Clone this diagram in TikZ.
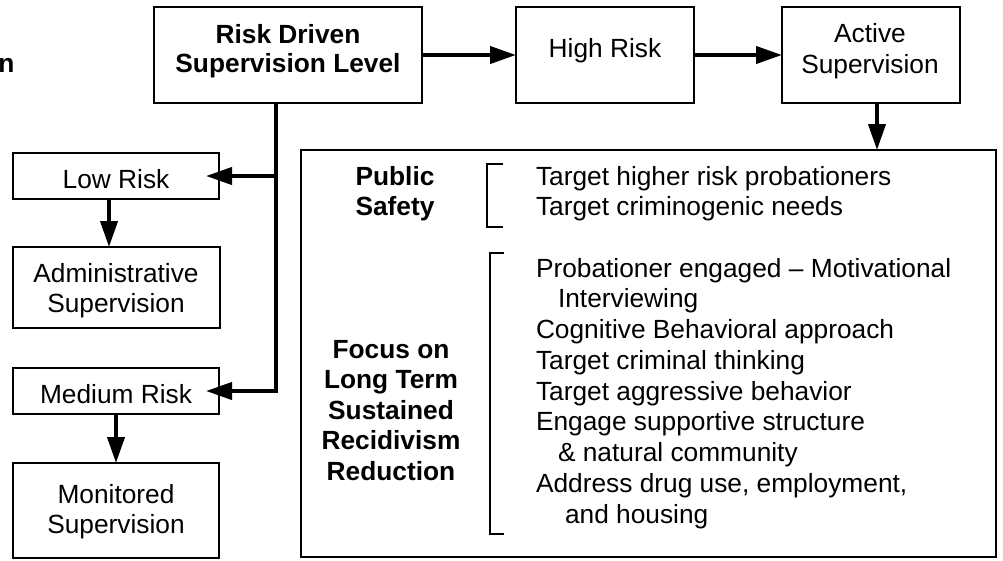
\documentclass[tikz,border=0pt]{standalone}
\usepackage{fontspec}
\setmainfont{Liberation Sans}
\usetikzlibrary{arrows.meta}
\newcommand\ctrlines[2]{\vtop{\baselineskip=#1pt\lineskiplimit=-100pt\halign{\hfil##\hfil\cr#2\crcr}}}
\newcommand\leftlines[2]{\vtop{\baselineskip=#1pt\lineskiplimit=-100pt\halign{##\hfil\cr#2\crcr}}}
\begin{document}
\begin{tikzpicture}[x=1pt,y=-1pt,
  every node/.style={inner sep=0pt,outer sep=0pt,font=\fontsize{26.3}{30}\selectfont},
  boxshape/.style={draw,line width=2pt,rectangle},
  arr/.style={line width=4pt,-{Triangle[length=26pt,width=17pt]}},
  brack/.style={line width=1.2pt},
  lbl/.style={anchor=base},
  bold/.style={font=\fontsize{26.3}{30}\selectfont\bfseries}]
\useasboundingbox (0,0) rectangle (1003,560);

% boxes
\node[boxshape,minimum width=268pt,minimum height=96pt] (rd) at (288,55) {};
\node[boxshape,minimum width=178pt,minimum height=96pt] (hr) at (605,55) {};
\node[boxshape,minimum width=178pt,minimum height=96pt] (act) at (871,55) {};
\node[boxshape,minimum width=695pt,minimum height=407pt] (big) at (648.5,353.5) {};
\node[boxshape,minimum width=206pt,minimum height=46pt] (low) at (116,176) {};
\node[boxshape,minimum width=207pt,minimum height=81pt] (adm) at (116.5,287.5) {};
\node[boxshape,minimum width=206pt,minimum height=46pt] (med) at (116,391) {};
\node[boxshape,minimum width=206pt,minimum height=95pt] (mon) at (116,510.5) {};

% texts
\node[bold,anchor=base east] (cut) at (14.5,72) {n};
\node[bold,lbl] (rdt) at (288,43) {\ctrlines{29}{Risk Driven\cr Supervision Level}};
\node[lbl] (hrt) at (605,57) {High Risk};
\node[lbl] (actt) at (870,42) {\ctrlines{31}{Active\cr Supervision}};
\node[lbl] (lowt) at (116,188) {Low Risk};
\node[lbl] (admt) at (116,282) {\ctrlines{30}{Administrative\cr Supervision}};
\node[lbl] (medt) at (116,403) {Medium Risk};
\node[lbl] (mont) at (116,503) {\ctrlines{30}{Monitored\cr Supervision}};
\node[bold,lbl] (pst) at (395,185) {\ctrlines{30}{Public\cr Safety}};
\node[bold,lbl] (fct) at (391,358) {\ctrlines{30.5}{Focus on\cr Long Term\cr Sustained\cr Recidivism\cr Reduction}};
\node[anchor=base west] (psl) at (536,185) {\leftlines{30}{Target higher risk probationers\cr Target criminogenic needs}};
\node[anchor=base west] (fcl) at (536,277) {\leftlines{30.75}{Probationer engaged – Motivational\cr
\kern22pt Interviewing\cr
Cognitive Behavioral approach\cr
Target criminal thinking\cr
Target aggressive behavior\cr
Engage supportive structure\cr
\kern22pt\& natural community\cr
Address drug use, employment,\cr
\kern29pt and housing}};

% brackets
\draw[brack] (503,164) -- (487,164) -- (487,227) -- (503,227);
\draw[brack] (504,253) -- (490,253) -- (490,534) -- (504,534);

% connectors
\draw[arr] (rd.east) -- (hr.west);
\draw[arr] (hr.east) -- (act.west);
\draw[arr] ([xshift=6pt]act.south) -- ([xshift=6pt]act.south |- big.north);
\coordinate (trunk) at ([xshift=-12pt]rd.south);
\coordinate (lowj) at ([xshift=2pt]trunk |- low.east);
\draw[arr] (trunk) |- ([xshift=-13pt]med.east);
\draw[arr] (lowj) -- ([xshift=-13pt]low.east);
\draw[arr] ([xshift=-7pt]low.south) -- ([xshift=-7pt]low.south |- adm.north);
\draw[arr] (med.south) -- (mon.north);
\end{tikzpicture}
\end{document}
